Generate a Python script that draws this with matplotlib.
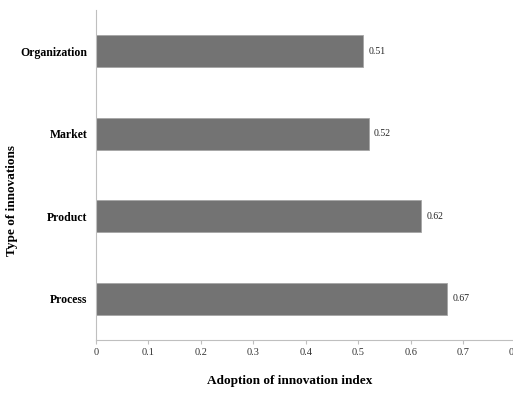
import matplotlib
matplotlib.use("Agg")
import matplotlib.pyplot as plt

categories = ["Process", "Product", "Market", "Organization"]
values = [0.67, 0.62, 0.52, 0.51]
xticks = [0, 0.1, 0.2, 0.3, 0.4, 0.5, 0.6, 0.7, 0.8]

BAR = "#737373"
AXIS = "#bfbfbf"
TXT = "#222222"

plt.rcParams["font.family"] = ["Liberation Serif", "DejaVu Serif"]

fig = plt.figure(figsize=(5.13, 3.95), dpi=100)
W, H = 513, 395
ax = fig.add_axes([96 / W, 1 - 340 / H, 419.5 / W, 330 / H])

ax.barh(range(len(categories)), values, height=0.39, color=BAR,
        edgecolor="#a6a6a6", linewidth=0.6)
for i, v in enumerate(values):
    ax.text(v + 0.01, i, f"{v:.2f}", va="center", ha="left", fontsize=7, color=TXT)

ax.set_xlim(0, 0.8)
ax.set_ylim(-0.5, 3.5)
ax.set_yticks(range(len(categories)))
ax.set_yticklabels(categories, fontsize=8.5, fontweight="bold", color="black")
ax.set_xticks(xticks)
ax.set_xticklabels([f"{t:g}" for t in xticks], fontsize=7.5, color="#333333")
ax.tick_params(axis="y", length=0, pad=6)
ax.tick_params(axis="x", length=3, color=AXIS, pad=3)

for s in ["top", "right"]:
    ax.spines[s].set_visible(False)
ax.spines["left"].set_color(AXIS)
ax.spines["bottom"].set_color(AXIS)

fig.text(290 / W, 1 - 381 / H, "Adoption of innovation index", ha="center", va="center",
         fontsize=9.5, fontweight="bold")
fig.text(12 / W, 1 - 200 / H, "Type of innovations", ha="center", va="center",
         rotation=90, fontsize=9.5, fontweight="bold")

fig.savefig("out.png", dpi=100)
